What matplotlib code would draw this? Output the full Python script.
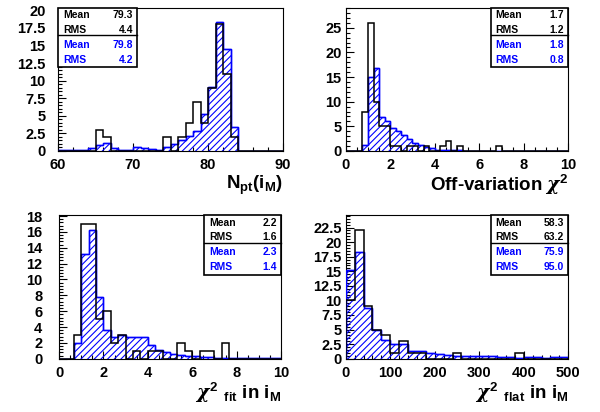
import numpy as np
import matplotlib
matplotlib.use('Agg')
import matplotlib.pyplot as plt
from matplotlib.patches import Rectangle
from matplotlib.lines import Line2D
from matplotlib.ticker import MultipleLocator, FuncFormatter

plt.rcParams['font.family'] = ['Liberation Sans', 'DejaVu Sans']
plt.rcParams['font.weight'] = 'bold'
plt.rcParams['mathtext.fontset'] = 'custom'
plt.rcParams['mathtext.rm'] = 'Liberation Sans:bold'
plt.rcParams['mathtext.bf'] = 'Liberation Sans:bold'
plt.rcParams['mathtext.it'] = 'DejaVu Serif:italic'
plt.rcParams['hatch.color'] = 'blue'
plt.rcParams['hatch.linewidth'] = 0.8

# --- Datos ---
npt_edges = np.arange(60, 91, 1)
npt_black = [0, 0, 0, 0, 0, 3, 2, 0, 0, 0, 0, 0, 0, 0, 2, 0, 2, 4, 7, 4,
             9, 18, 11, 2, 0, 0, 0, 0, 0, 0]
npt_blue = [0.15, 0.15, 0.15, 0.15, 0.4, 0.85, 1.1, 0.45, 0.2, 0.1, 0.5, 0.4, 0.3, 0.2, 0.6,
            0.95, 1.55, 2.1, 2.8, 5.2, 9.1, 18.3, 14.5, 3.4, 0, 0, 0, 0, 0, 0]

off_edges = np.arange(0, 10.001, 0.25)
off_black = [0, 0, 0, 8, 26, 10, 5, 5, 1, 1, 0, 1, 1, 0, 1, 0, 0, 1, 2, 0,
             1, 0, 0, 0, 0, 0, 0, 1, 0, 0, 0, 0, 0, 0, 0, 0, 0, 0, 0, 0]
off_blue = [0, 0, 0, 1.2, 15.0, 16.8, 6.9, 6.0, 4.7, 4.0, 3.3, 2.5, 1.7, 1.2, 0.8, 0.7, 0.3, 0.3, 0.2, 0.2,
            0.2, 0.1, 0.05, 0.05, 0.05, 0.05, 0.05, 0.05, 0.05, 0.05, 0.05, 0.05, 0, 0, 0, 0, 0, 0, 0, 0]

fit_edges = np.linspace(0, 10, 31)
fit_black = [0, 0, 3, 17, 17, 5, 6, 2, 3, 0, 1, 0, 1, 1, 0, 0, 2, 1, 0, 1,
             1, 0, 2, 0, 0, 0, 0, 0, 0, 0]
fit_blue = [0, 0, 2.0, 13.2, 16.3, 7.8, 3.6, 2.8, 3.0, 2.8, 2.7, 2.7, 1.7, 1.1, 0.8, 0.6, 0.5, 0.3, 0.3, 0.2,
            0.2, 0.15, 0.15, 0.1, 0.15, 0.1, 0.05, 0.1, 0.05, 0.05]

flat_edges = np.arange(0, 501, 20)
flat_black = [10, 22, 9, 5, 4, 1, 3, 1, 1, 0, 0, 0, 1, 0, 0, 0, 0, 0, 0, 1, 0, 0, 0, 0, 0]
flat_blue = [15.3, 18.3, 8.7, 5.0, 3.2, 2.5, 2.5, 1.3, 1.3, 0.9, 0.8, 0.6, 0.5, 0.5, 0.4, 0.4, 0.4,
             0.3, 0.3, 0.2, 0.3, 0.3, 0.2, 0.3, 0.3]

stats_black = [('79.3', '4.4'), ('1.7', '1.2'), ('2.2', '1.6'), ('58.3', '63.2')]
stats_blue = [('79.8', '4.2'), ('1.8', '0.8'), ('2.3', '1.4'), ('75.9', '95.0')]

xlabels = [r'$\mathrm{N_{pt}(i_{M})}$',
           r'Off-variation $\chi^{2}$',
           r'$\chi^{\mathrm{2}}\ {}_{\mathrm{fit}}$ in i$_{\mathrm{M}}$',
           r'$\chi^{\mathrm{2}}\ {}_{\mathrm{flat}}$ in i$_{\mathrm{M}}$']

W, H = 600, 412
fig = plt.figure(figsize=(6, 4.12), dpi=100)

# posiciones en pixeles: (izq, der, abajo, arriba)
boxes = [(58, 283, 151, 7.5), (345.7, 568.3, 151, 7.5),
         (59, 281, 358.7, 215.3), (345.7, 568.3, 358.7, 215.3)]
xlims = [(60, 90), (0, 10), (0, 10), (0, 500)]
ylims = [20.4, 29.1, 18.1, 24.6]
xmaj = [10, 2, 2, 100]
xmin = [2, 0.5, 0.5, 20]
ymaj = [2.5, 5, 2, 2.5]
ymin = [0.5, 1, 0.4, 0.5]
ypad = [9, 3, 12, 3]
edges_all = [npt_edges, off_edges, fit_edges, flat_edges]
black_all = [npt_black, off_black, fit_black, flat_black]
blue_all = [npt_blue, off_blue, fit_blue, flat_blue]
# cajas de estadisticas: (x0, x1, y0, y1) en pixeles
statbox = [(58, 137, 7.5, 67), (490.7, 568.3, 7.5, 67),
           (204, 281, 215.3, 274.5), (490.7, 568.3, 215.3, 274.5)]

fmt = FuncFormatter(lambda v, p: f"{v:g}")

for k in range(4):
    l, r, b, t = boxes[k]
    ax = fig.add_axes([l / W, 1 - b / H, (r - l) / W, (b - t) / H])
    ax.stairs(blue_all[k], edges_all[k], fill=True, facecolor='none',
              edgecolor='blue', hatch='/////', linewidth=1.0, zorder=2)
    ax.stairs(blue_all[k], edges_all[k], color='blue', linewidth=1.0, zorder=3)
    ax.stairs(black_all[k], edges_all[k], color='black', linewidth=1.1, zorder=4)
    ax.set_xlim(*xlims[k])
    ax.set_ylim(0, ylims[k])
    ax.xaxis.set_major_locator(MultipleLocator(xmaj[k]))
    ax.xaxis.set_minor_locator(MultipleLocator(xmin[k]))
    ax.yaxis.set_major_locator(MultipleLocator(ymaj[k]))
    ax.yaxis.set_minor_locator(MultipleLocator(ymin[k]))
    ax.yaxis.set_major_formatter(fmt)
    ax.xaxis.set_major_formatter(fmt)
    ax.tick_params(which='major', direction='in', length=6, width=0.8, labelsize=10.5)
    ax.tick_params(which='minor', direction='in', length=3, width=0.8)
    ax.tick_params(axis='x', which='major', pad=5)
    ax.tick_params(axis='y', which='major', pad=ypad[k])
    for s in ax.spines.values():
        s.set_linewidth(0.8)

    # etiqueta del eje x
    fig.text(r / W, 1 - (b + 34) / H, xlabels[k], ha='right', va='center', fontsize=13.5,
             fontweight='bold')

    # caja de estadisticas
    x0, x1, y0, y1 = statbox[k]
    fig.patches.append(Rectangle((x0 / W, 1 - y1 / H), (x1 - x0) / W, (y1 - y0) / H,
                                 transform=fig.transFigure, facecolor='white',
                                 edgecolor='black', linewidth=1.2, zorder=5))
    ymid = y0 + (y1 - y0) * 0.46
    fig.lines.append(Line2D([x0 / W, x1 / W], [1 - ymid / H, 1 - ymid / H],
                            transform=fig.transFigure, color='black', linewidth=1.0, zorder=6))
    rows = [('Mean', stats_black[k][0], 'black'), ('RMS', stats_black[k][1], 'black'),
            ('Mean', stats_blue[k][0], 'blue'), ('RMS', stats_blue[k][1], 'blue')]
    dy = (y1 - y0) / 4
    for j, (name, val, col) in enumerate(rows):
        yy = y0 + dy * (j + 0.5)
        fig.text((x0 + 5) / W, 1 - yy / H, name, ha='left', va='center', fontsize=7.5,
                 color=col, fontweight='bold', zorder=7)
        fig.text((x1 - 4) / W, 1 - yy / H, val, ha='right', va='center', fontsize=7.5,
                 color=col, fontweight='bold', zorder=7)

plt.savefig('out.png', dpi=100)
